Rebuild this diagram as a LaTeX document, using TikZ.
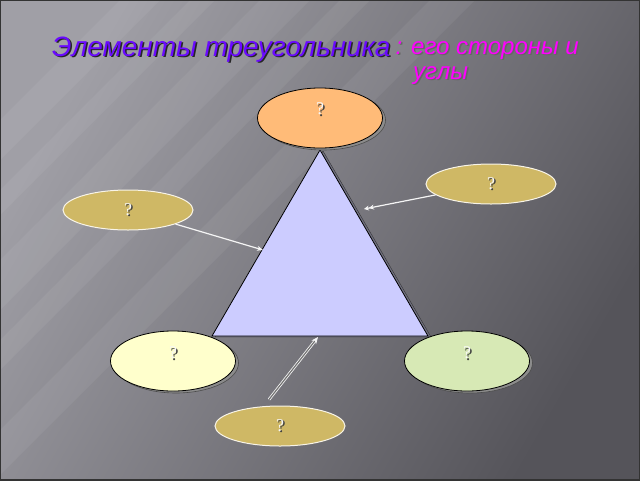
\documentclass[tikz,border=0pt]{standalone}
\usepackage{fontspec}
\setmainfont{Liberation Serif}
\setsansfont{Liberation Sans}
\usetikzlibrary{shapes.geometric,arrows.meta,calc}

\definecolor{titleblue}{HTML}{6A0AFF}
\definecolor{titlepink}{HTML}{FF00FF}
\definecolor{peach}{HTML}{FFBB78}
\definecolor{khaki}{HTML}{CFB865}
\definecolor{lemon}{HTML}{FFFFCC}
\definecolor{mint}{HTML}{D7E9B5}
\definecolor{lilac}{HTML}{CCCCFF}
\definecolor{bglight}{HTML}{A09FA6}
\definecolor{bgdark}{HTML}{55545A}

% text with a small dark shadow down right
\newcommand{\shtext}[3]{\rlap{\hspace{1.5pt}\raisebox{-1.5pt}{\color{#1}#3}}{\color{#2}#3}}
\newcommand{\qm}{\shtext{black!75}{white!94!gray}{?}}

\tikzset{
  oval/.style={ellipse, draw=black, line width=0.8pt, minimum width=125pt,
    minimum height=60pt, inner sep=0pt, font=\rmfamily\fontsize{18}{18}\selectfont},
  oval shadow/.style={ellipse, draw=black!70, fill=black!45, line width=0.6pt,
    minimum width=125pt, minimum height=60pt, inner sep=0pt},
  flat oval/.style={ellipse, draw=white!85!khaki, line width=1pt, fill=khaki,
    minimum width=130pt, minimum height=40pt, inner sep=0pt,
    font=\rmfamily\fontsize{18}{18}\selectfont},
  pointer/.style={draw=white!92!gray, line width=1.2pt},
}

\begin{document}
\begin{tikzpicture}[x=1pt, y=-1pt]
    \useasboundingbox (0,0) rectangle (640,480);

    % Background with light diagonal streaks
    \shade[left color=bglight, right color=bgdark, shading angle=60] (0,0) rectangle (640,480);
    \foreach \a/\w in {120/40, 190/25, 260/50, 340/30, 430/45} {
        \fill[white, opacity=0.06] (\a,0) -- (\a+\w,0) -- (\a+\w-480,480) -- (\a-480,480) -- cycle;
    }
    \draw[black!80, line width=1.5pt] (0,0) rectangle (640,480);

    % Heading
    \node[anchor=base west, inner sep=0pt, font=\sffamily\itshape\fontsize{28}{32}\selectfont]
        (title) at (52,56) {\shtext{black!85}{titleblue}{Элементы треугольника}};
    \node[anchor=base west, inner sep=0pt, align=left,
        font=\sffamily\itshape\fontsize{24}{25}\selectfont]
        (subtitle) at (411,79) {\llap{\shtext{black!60}{titlepink}{:} }\shtext{black!60}{titlepink}{его стороны и}\\
        \hspace{2pt}\shtext{black!60}{titlepink}{углы}};

    % The triangle and its shadow
    \coordinate (apex) at (320,150);
    \coordinate (left) at (212,336);
    \coordinate (right) at (428,336);
    \fill[black!50!lilac!60!gray, draw=black!80] ([shift={(3,1)}]apex) -- ([shift={(3,1)}]right)
        -- ([shift={(3,1)}]left) -- cycle;
    \draw[fill=lilac, line width=0.8pt] (apex) -- (right) -- (left) -- cycle;

    % Ovals with black outline (angles)
    \node[oval shadow] at (323,120) {};
    \node[oval, fill=peach] (top) at (320,118) {\raisebox{18pt}{\qm}};
    \node[oval shadow] at (176,363) {};
    \node[oval, fill=lemon] (lowleft) at (173,361) {\raisebox{16pt}{\qm}};
    \node[oval shadow] at (470,363) {};
    \node[oval, fill=mint] (lowright) at (467,361) {\raisebox{16pt}{\qm}};

    % Flat ovals (sides)
    \node[flat oval] (sideleft) at (128,210) {\qm};
    \node[flat oval] (sideright) at (491,184) {\qm};
    \node[flat oval] (base) at (280,426) {\qm};

    % Pointers to the sides
    \coordinate (hitleft) at (263,250);
    \coordinate (hitright) at (364,209);
    \coordinate (hitbase) at (318,337);
    \coordinate (basefoot) at ($(base.north)+(-11,-6)$);
    \draw[pointer, -{Stealth[length=6pt,width=5pt]}] (sideleft) -- (hitleft);
    \draw[pointer, -{Stealth[length=5pt,width=5pt]Stealth[length=5pt,width=5pt]}] (sideright) -- (hitright);
    \draw[pointer, line width=0.8pt, double=black!55, double distance=1.2pt,
        -{Stealth[length=7pt,width=6pt]}] (basefoot) -- (hitbase);
\end{tikzpicture}
\end{document}
